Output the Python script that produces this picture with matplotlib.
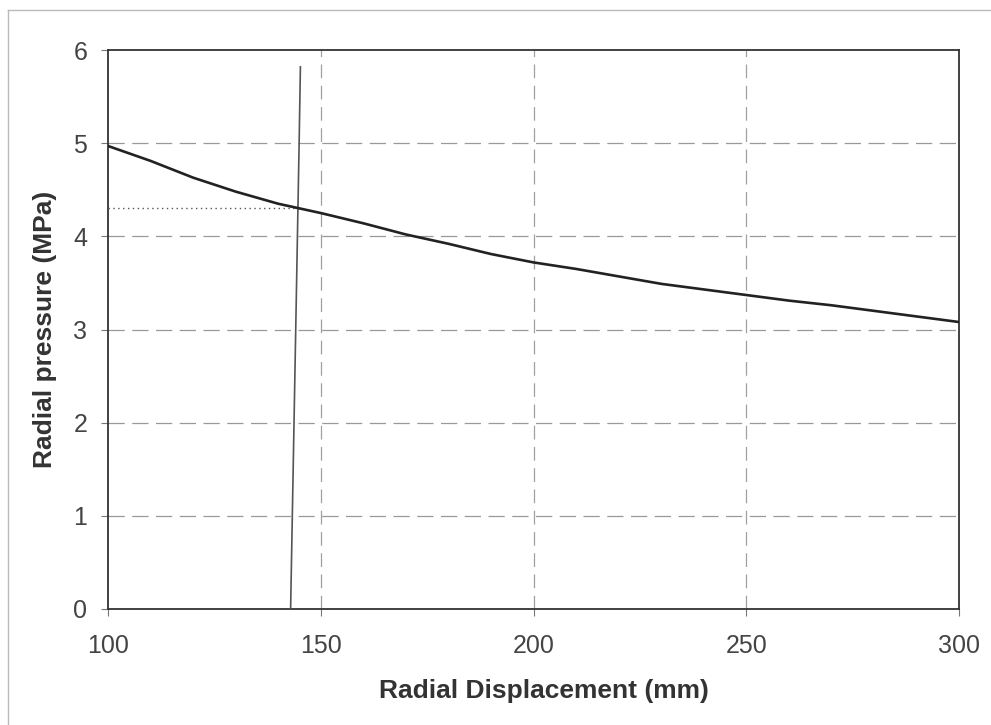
import matplotlib
matplotlib.use("Agg")
import matplotlib.pyplot as plt
from matplotlib.lines import Line2D

plt.rcParams['font.family'] = ['Liberation Sans', 'DejaVu Sans']

# pressure curve
disp_mm = [100, 110, 120, 130, 140, 150, 160, 170, 180, 190, 200,
           210, 220, 230, 240, 250, 260, 270, 280, 290, 300]
pressure_mpa = [4.97, 4.81, 4.63, 4.48, 4.35, 4.25, 4.14, 4.02, 3.92, 3.81, 3.72,
                3.65, 3.57, 3.49, 3.43, 3.37, 3.31, 3.26, 3.20, 3.14, 3.08]

# near-vertical line
vert_x = [142.9, 143.3, 143.7, 144.1, 144.5, 144.9, 145.2]
vert_y = [0.0, 1.0, 2.0, 3.0, 4.0, 5.0, 5.82]

# dotted reading line
read_x = [100, 144.5]
read_y = [4.3, 4.3]

x_ticks = [100, 150, 200, 250, 300]
y_ticks = [0, 1, 2, 3, 4, 5, 6]

fig = plt.figure(figsize=(9.91, 7.25), dpi=100)
ax = fig.add_axes([0.109, 0.160, 0.859, 0.771])

# light page frame
fig.add_artist(Line2D([0.008, 0.008], [0.0, 0.986], color='#bbbbbb', lw=1.0))
fig.add_artist(Line2D([0.008, 1.0], [0.986, 0.986], color='#bbbbbb', lw=1.0))

ax.plot(disp_mm, pressure_mpa, color='#222222', lw=1.9, zorder=4)
ax.plot(vert_x, vert_y, color='#555555', lw=1.2, zorder=3)
ax.plot(read_x, read_y, color='#555555', lw=1.0, ls=(0, (1, 2.5)), zorder=3)

ax.set_xlim(100, 300)
ax.set_ylim(0, 6)
ax.set_xticks(x_ticks)
ax.set_yticks(y_ticks)

for v in x_ticks[1:-1]:
    ax.axvline(v, color='#a0a0a0', lw=0.9, ls=(0, (11, 6)), zorder=1)
for v in y_ticks[1:-1]:
    ax.axhline(v, color='#999999', lw=0.9, ls=(0, (13, 6)), zorder=1)

for s in ax.spines.values():
    s.set_color('#333333')
    s.set_linewidth(1.3)

ax.tick_params(axis='both', direction='out', length=5, width=0.8,
               color='#777777', labelsize=18, labelcolor='#444444')
ax.tick_params(axis='x', pad=13)
ax.tick_params(axis='y', pad=10)

ax.set_xlabel('Radial Displacement (mm)', fontsize=19, fontweight='bold',
              color='#333333', labelpad=18)
ax.set_ylabel('Radial pressure (MPa)', fontsize=19, fontweight='bold',
              color='#333333', labelpad=12)
ax.xaxis.set_label_coords(0.512, -0.125)

fig.savefig('out.png', dpi=100, facecolor='white')
